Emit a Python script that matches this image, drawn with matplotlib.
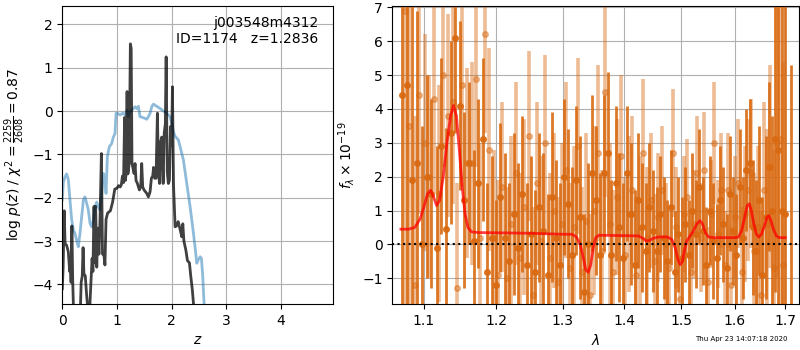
import matplotlib
matplotlib.use("Agg")
import matplotlib.pyplot as plt
from matplotlib.ticker import NullLocator, FixedLocator, FixedFormatter

# ---------------- left panel: p(z) ----------------
z_pz = [0.000, 0.015, 0.035, 0.050, 0.080, 0.110, 0.135, 0.150, 0.160, 0.175,
        0.190, 0.205, 0.330, 0.345, 0.365, 0.380, 0.395, 0.420, 0.445, 0.470,
        0.500, 0.520, 0.545, 0.560, 0.580, 0.595, 0.610, 0.630, 0.650, 0.670,
        0.690, 0.715, 0.735, 0.760, 0.780, 0.800, 0.830, 0.880, 0.920, 0.960,
        1.000, 1.030, 1.060, 1.080, 1.100, 1.120, 1.140, 1.155, 1.170, 1.185,
        1.200, 1.225, 1.245, 1.260, 1.275, 1.290, 1.313, 1.331, 1.349, 1.374,
        1.410, 1.435, 1.453, 1.471, 1.496, 1.545, 1.575, 1.606, 1.630, 1.654,
        1.670, 1.690, 1.715, 1.740, 1.760, 1.780, 1.800, 1.820, 1.845, 1.865,
        1.885, 1.900, 1.920, 1.940, 1.960, 1.980, 2.000, 2.015, 2.035, 2.064,
        2.090, 2.120, 2.150, 2.187, 2.205, 2.225, 2.260, 2.290, 2.326, 2.350,
        2.380, 2.410]
logpz = [-4.10, -3.60, -2.30, -3.05, -3.10, -3.25, -3.70, -3.55, -3.95, -2.65,
         -3.90, -4.60, -4.60, -3.95, -3.80, -3.15, -3.75, -3.80, -4.25, -4.60,
         -4.60, -4.05, -3.40, -3.70, -2.20, -3.50, -2.20, -3.60, -2.70, -3.30,
         -2.50, -0.98, -3.30, -3.30, -3.55, -2.50, -2.35, -2.30, -2.10, -1.80,
         -1.78, -1.72, -1.75, -1.70, -1.50, -1.65, -0.15, -1.60, -1.40, 0.45,
         -1.45, -1.20, 1.55, 1.45, -1.20, -1.30, -1.44, -1.21, -1.60, -1.67,
         -1.82, -1.75, -1.21, -1.75, -1.82, -1.90, -1.98, -1.86, -1.55, -1.50,
         -1.30, -1.55, -1.55, -0.05, -1.45, -1.67, -0.70, -0.60, -1.67, -0.50,
         -0.30, 1.25, -1.40, -1.67, -1.60, -0.36, -0.80, 0.56, -1.70, -2.67,
         -2.65, -2.55, -2.70, -2.90, -2.60, -3.00, -3.20, -3.45, -3.50, -3.80,
         -4.13, -4.60]

z_chi = [0.000, 0.018, 0.049, 0.079, 0.110, 0.140, 0.171, 0.201, 0.232, 0.262,
         0.293, 0.323, 0.354, 0.385, 0.415, 0.446, 0.476, 0.507, 0.537, 0.568,
         0.598, 0.629, 0.659, 0.690, 0.720, 0.751, 0.781, 0.800, 0.824, 0.861,
         0.903, 0.934, 0.964, 0.983, 1.007, 1.056, 1.105, 1.148, 1.178, 1.209,
         1.239, 1.270, 1.331, 1.361, 1.392, 1.422, 1.453, 1.514, 1.545, 1.575,
         1.606, 1.636, 1.667, 1.728, 1.789, 1.850, 1.911, 1.972, 2.003, 2.033,
         2.064, 2.125, 2.155, 2.216, 2.277, 2.338, 2.400, 2.442, 2.460, 2.490,
         2.522, 2.546, 2.570, 2.600]
chi_scaled = [-2.05, -1.65, -1.52, -1.45, -1.58, -2.05, -2.50, -2.74, -2.82, -2.98,
              -3.13, -2.82, -2.44, -2.05, -1.98, -2.13, -2.28, -2.59, -2.67, -2.52,
              -2.21, -2.10, -2.21, -2.28, -1.90, -1.44, -1.59, -1.90, -1.05, -0.82,
              -0.75, -0.60, -0.52, -0.05, -0.05, -0.09, -0.05, -0.09, 0.02, -0.13,
              0.00, 0.02, 0.10, 0.06, 0.11, -0.13, -0.14, -0.17, -0.19, -0.13,
              -0.05, 0.10, 0.16, 0.11, 0.06, 0.00, -0.05, -0.13, -0.28, -0.48,
              -0.58, -0.67, -0.82, -1.13, -1.67, -2.20, -2.82, -3.28, -3.51, -3.43,
              -3.36, -3.40, -3.82, -4.60]

z_ticks = [0, 1, 2, 3, 4]
logp_ticks = [-4, -3, -2, -1, 0, 1, 2]

# ---------------- right panel: spectrum ----------------
wave_a = [1.072, 1.078, 1.085, 1.091, 1.098, 1.104, 1.110, 1.117, 1.123, 1.130,
          1.136, 1.142, 1.149, 1.155, 1.162, 1.168, 1.174, 1.181, 1.187, 1.194,
          1.200, 1.206, 1.213, 1.219, 1.226, 1.232, 1.238, 1.245, 1.251, 1.258,
          1.264, 1.270, 1.277, 1.283, 1.290, 1.296, 1.302, 1.309, 1.315, 1.322,
          1.328, 1.334, 1.341, 1.347, 1.354, 1.360, 1.366, 1.373, 1.379, 1.386,
          1.392, 1.398, 1.405, 1.411, 1.418, 1.424, 1.430, 1.437, 1.443, 1.450,
          1.456, 1.462, 1.469, 1.475, 1.482, 1.488, 1.494, 1.501, 1.507, 1.514,
          1.520, 1.526, 1.533, 1.539, 1.546, 1.552, 1.558, 1.565, 1.571, 1.578,
          1.584, 1.590, 1.597, 1.603, 1.610, 1.616, 1.622, 1.629, 1.635, 1.642,
          1.648, 1.654, 1.661, 1.667, 1.674, 1.680, 1.686, 1.693, 1.699, 1.711]
flux_a = [4.4, 4.7, 1.9, 2.4, 0.0, 2.0, 1.5, -0.1, 2.9, 0.45,
          3.3, 6.1, 4.1, 1.3, 2.4, 0.1, 1.8, 3.1, -0.8, 0.2,
          -1.2, 1.4, 0.2, -0.5, 0.9, -0.1, 1.5, -0.6, 0.3, -0.8,
          1.1, 0.4, -0.9, 1.4, 0.2, -0.6, 2.0, 1.2, -0.3, 1.9,
          0.8, -1.4, 0.0, 2.1, 1.3, -0.3, 2.1, 2.7, -0.3, 1.8,
          0.5, -0.4, 2.1, 0.9, -0.6, 1.3, 0.5, -0.2, 1.1, 0.4,
          -0.2, 0.9, 0.2, -0.5, 1.1, -0.8, 0.3, -0.4, 0.6, -0.3,
          1.0, 0.3, 1.7, 0.4, -0.6, 1.0, 0.1, -0.4, 1.3, 0.6,
          -0.7, 1.5, 0.4, -0.3, 1.7, 0.2, 2.2, 2.4, 0.5, -0.2,
          1.3, -0.9, 0.8, 2.3, 1.0, 3.1, 2.8, 1.0, 0.9, -2.2]
err_a = [12, 12, 8, 4.5, 3.5, 3.0, 2.8, 3.0, 2.6, 3.0,
         2.7, 2.8, 2.5, 2.6, 2.4, 2.7, 2.5, 2.4, 2.6, 2.4,
         2.5, 2.2, 2.5, 2.3, 2.4, 2.5, 2.3, 2.4, 2.3, 2.4,
         2.2, 2.3, 2.4, 2.5, 2.3, 2.4, 2.3, 2.2, 2.6, 2.2,
         2.4, 2.3, 2.4, 2.3, 2.2, 2.4, 2.3, 2.4, 2.2, 2.3,
         2.2, 2.2, 2.0, 2.1, 2.2, 2.0, 1.9, 2.0, 1.9, 1.8,
         1.9, 1.7, 1.8, 1.8, 1.7, 1.8, 1.7, 1.8, 1.7, 1.6,
         1.7, 1.6, 1.7, 1.6, 1.7, 1.6, 1.7, 1.6, 1.6, 1.7,
         1.6, 1.7, 1.6, 1.8, 1.7, 1.8, 1.8, 1.9, 2.0, 2.1,
         2.2, 2.3, 2.4, 2.5, 2.8, 4.5, 9, 12, 10, 7.5]

wave_b = [1.075, 1.081, 1.088, 1.094, 1.101, 1.107, 1.113, 1.120, 1.126, 1.133,
          1.139, 1.145, 1.152, 1.158, 1.165, 1.171, 1.177, 1.184, 1.190, 1.197,
          1.203, 1.209, 1.216, 1.222, 1.229, 1.235, 1.241, 1.248, 1.254, 1.261,
          1.267, 1.273, 1.280, 1.286, 1.293, 1.299, 1.305, 1.312, 1.318, 1.325,
          1.331, 1.337, 1.344, 1.350, 1.357, 1.363, 1.369, 1.376, 1.382, 1.389,
          1.395, 1.401, 1.408, 1.414, 1.421, 1.427, 1.433, 1.440, 1.446, 1.453,
          1.459, 1.465, 1.472, 1.478, 1.485, 1.491, 1.497, 1.504, 1.510, 1.517,
          1.523, 1.529, 1.536, 1.542, 1.549, 1.555, 1.561, 1.568, 1.574, 1.581,
          1.587, 1.593, 1.600, 1.606, 1.613, 1.619, 1.625, 1.632, 1.638, 1.645,
          1.651, 1.657, 1.664, 1.670, 1.677, 1.683, 1.689, 1.696]
flux_b = [6.9, 3.5, -1.2, 4.4, 3.0, 2.0, 4.3, 1.5, 5.0, 3.8,
          4.2, -1.3, 4.7, 2.4, 2.4, 4.9, 0.2, 6.2, 2.8, 0.2,
          -0.9, 1.7, -1.0, 0.6, 2.1, -0.4, 1.1, 3.2, -1.5, 1.8,
          0.1, 3.0, -0.4, 1.0, -1.1, 0.6, 2.2, -0.7, 0.5, 2.9,
          -0.8, 0.7, -1.5, 1.0, 2.7, -0.2, 4.5, 0.6, -0.8, 1.4,
          2.6, -0.3, 0.9, 1.6, -0.9, 0.4, 2.7, 0.2, 1.3, -0.5,
          0.8, 1.6, 0.0, -0.7, 2.7, 0.5, -1.6, 0.9, 1.4, -0.8,
          0.6, 2.1, 0.2, 2.2, -1.1, 0.9, 3.0, 0.3, 1.6, -0.6,
          1.6, -1.2, 0.8, 1.8, -0.8, 0.9, 1.6, 2.1, -0.2, 0.5,
          -1.5, 1.6, 0.6, 2.3, -0.7, 3.0, 3.1, -0.6]
err_b = [9, 6, 5, 3.5, 3.2, 3.0, 2.8, 3.2, 2.7, 3.0,
         3.0, 3.1, 3.0, 2.8, 3.0, 2.6, 2.8, 2.9, 3.0, 2.6,
         2.8, 2.5, 2.7, 2.6, 2.7, 2.5, 2.6, 2.5, 2.6, 2.4,
         2.5, 2.6, 2.5, 2.3, 2.5, 2.4, 2.6, 2.5, 2.4, 2.6,
         2.5, 2.6, 2.4, 2.5, 2.6, 2.4, 3.1, 2.4, 2.4, 2.3,
         2.4, 2.3, 2.3, 2.2, 2.3, 2.2, 2.2, 2.1, 2.0, 2.0,
         1.9, 1.9, 1.8, 1.8, 1.9, 1.8, 1.8, 1.7, 1.7, 1.7,
         1.6, 1.7, 1.6, 1.7, 1.6, 1.6, 1.8, 1.6, 1.7, 1.6,
         1.7, 1.7, 1.8, 1.9, 1.9, 2.0, 2.1, 2.2, 2.3, 2.4,
         2.5, 2.6, 2.8, 3.0, 3.5, 4.0, 5.0, 6.0]

wave_model = [1.070, 1.080, 1.088, 1.095, 1.100, 1.105, 1.109, 1.113, 1.117, 1.121,
              1.126, 1.131, 1.136, 1.140, 1.144, 1.148, 1.152, 1.156, 1.160, 1.165,
              1.175, 1.250, 1.300, 1.315, 1.322, 1.328, 1.333, 1.337, 1.341, 1.345,
              1.349, 1.353, 1.358, 1.400, 1.425, 1.432, 1.438, 1.444, 1.450, 1.460,
              1.475, 1.483, 1.489, 1.494, 1.498, 1.502, 1.506, 1.510, 1.516, 1.522,
              1.528, 1.534, 1.539, 1.544, 1.550, 1.560, 1.600, 1.607, 1.613, 1.619,
              1.624, 1.628, 1.632, 1.637, 1.642, 1.647, 1.652, 1.658, 1.663, 1.667,
              1.671, 1.676, 1.682, 1.688, 1.695, 1.700]
flux_model = [0.45, 0.45, 0.50, 0.75, 1.10, 1.50, 1.60, 1.40, 1.15, 1.30,
              2.00, 3.00, 3.80, 4.10, 3.80, 2.80, 1.70, 0.90, 0.50, 0.37,
              0.35, 0.33, 0.30, 0.30, 0.22, 0.00, -0.40, -0.75, -0.82, -0.60,
              -0.10, 0.20, 0.27, 0.26, 0.25, 0.18, 0.10, 0.12, 0.18, 0.22,
              0.22, 0.15, -0.10, -0.45, -0.60, -0.50, -0.15, 0.10, 0.25, 0.40,
              0.60, 0.70, 0.60, 0.35, 0.22, 0.20, 0.20, 0.22, 0.40, 0.80,
              1.15, 1.20, 1.00, 0.60, 0.30, 0.22, 0.30, 0.55, 0.80, 0.85,
              0.70, 0.45, 0.25, 0.20, 0.20, 0.20]

wave_ticks = [1.1, 1.2, 1.3, 1.4, 1.5, 1.6, 1.7]
wave_ticklabels = ['1.1', '1.2', '1.3', '1.4', '1.5', '1.6', '1.7']
flux_ticks = [-1, 0, 1, 2, 3, 4, 5, 6, 7]

# ---------------- figure ----------------
fig = plt.figure(figsize=(8, 3.5), dpi=100)
ax1 = fig.add_axes([0.0779, 0.1314, 0.3388, 0.8523])
ax2 = fig.add_axes([0.4904, 0.1314, 0.5084, 0.8523])

ax1.plot(z_chi, chi_scaled, color=(0.12, 0.47, 0.71), alpha=0.5, lw=2)
ax1.plot(z_pz, logpz, color='k', alpha=0.75, lw=2)
ax1.set_xlim(0, 4.96)
ax1.set_ylim(-4.45, 2.43)
ax1.set_xticks(z_ticks)
ax1.set_yticks(logp_ticks)
ax1.grid(True)
ax1.set_xlabel(r'$z$')
ax1.set_ylabel(r'log $p(z)$' + ' / ' + r'$\chi^2=\frac{2259}{2608}=0.87$')
ax1.text(0.945, 0.965, 'j003548m4312\nID=1174   z=1.2836', ha='right', va='top',
         transform=ax1.transAxes, fontsize=10)

orange = '#d96a12'
ax2.errorbar(wave_b, flux_b, yerr=err_b, color=orange, alpha=0.45, marker='o',
             markersize=4, linestyle='None', elinewidth=2.6)
ax2.errorbar(wave_a, flux_a, yerr=err_a, color=orange, alpha=0.9, marker='o',
             markersize=4, linestyle='None', elinewidth=2.0)
ax2.plot(wave_model, flux_model, color='r', alpha=0.75, lw=2, zorder=10)
ax2.axhline(0, color='k', ls=':', lw=1.5, zorder=11)
ax2.set_xscale('log')
ax2.set_xlim(1.059, 1.7286)
ax2.set_ylim(-1.76, 7.05)
ax2.xaxis.set_major_locator(FixedLocator(wave_ticks))
ax2.xaxis.set_major_formatter(FixedFormatter(wave_ticklabels))
ax2.xaxis.set_minor_locator(NullLocator())
ax2.set_yticks(flux_ticks)
ax2.grid(True)
ax2.set_xlabel(r'$\lambda$')
ax2.set_ylabel(r'$f_\lambda \times 10^{-19}$')

fig.text(0.984, 0.031, 'Thu Apr 23 14:07:18 2020', ha='right', va='center', fontsize=5)

fig.savefig('out.png', dpi=100)
